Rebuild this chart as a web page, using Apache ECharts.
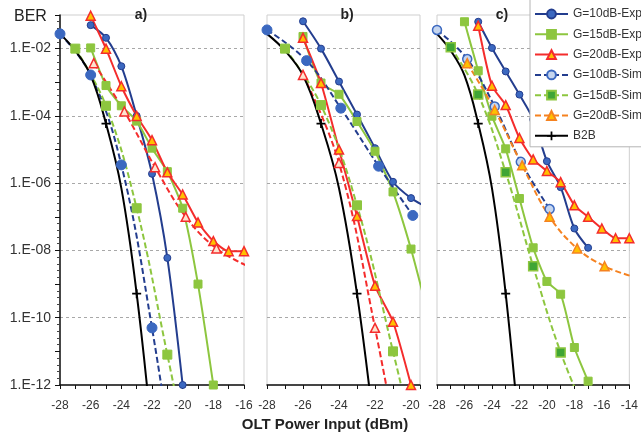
<!DOCTYPE html>
<html>
<head>
<meta charset="utf-8">
<title>BER</title>
<script src="https://cdn.jsdelivr.net/npm/echarts@6/dist/echarts.min.js"></script>
<style>
html,body{margin:0;padding:0;background:#fff;}
#main{width:641px;height:439px;}
</style>
</head>
<body>
<div id="main"></div>
<script>
// ---- data (x = OLT power in dBm, y = BER) ----
var names = ['G=10dB-Exp','G=15dB-Exp','G=20dB-Exp','G=10dB-Sim','G=15dB-Sim','G=20dB-Sim','B2B'];
var panelTitles = ['a)','b)','c)'];
var xMaxes = [-16, -19.5, -14];

// back to back, same in every panel
var b2bX = [-28, -27, -26, -25, -24, -23, -22];
var b2bBer = [2.75e-2, 8.7e-3, 1.6e-3, 5.9e-5, 7.1e-7, 5.2e-10, 3e-14];
var b2bMarked = [-25, -23];

// panel a)
var aG10ExpX = [-26, -25, -24, -23, -22, -21, -20];
var aG10ExpBer = [5e-2, 2.1e-2, 3e-3, 1e-4, 1.9e-6, 6e-9, 1e-12];
var aG15ExpX = [-26, -25, -24, -23, -22, -21, -20, -19, -18];
var aG15ExpBer = [1.05e-2, 8e-4, 2e-4, 7e-5, 1.1e-5, 2.2e-6, 1.8e-7, 1e-9, 1e-12];
var aG20ExpX = [-26, -25, -24, -23, -22, -21, -20, -19, -18, -17, -16];
var aG20ExpBer = [9.5e-2, 1e-2, 7.6e-4, 1e-4, 1.9e-5, 2.1e-6, 4.6e-7, 6.8e-8, 1.9e-8, 9.5e-9, 9.5e-9];
var aG10SimX = [-28, -26, -24, -22, -20];
var aG10SimBer = [2.75e-2, 1.65e-3, 3.5e-6, 5e-11, 5e-17];
var aG15SimX = [-27, -25, -23, -21, -19];
var aG15SimBer = [1e-2, 2e-4, 1.8e-7, 8e-12, 3e-16];
var aG20SimX = [-25.8, -23.8, -21.8, -19.8, -17.8, -15.8];
var aG20SimBer = [3.7e-3, 1.35e-4, 3e-6, 1e-7, 1.15e-8, 3.5e-9];

// panel b)
var bG10ExpX = [-26, -25, -24, -23, -22, -21, -20, -19];
var bG10ExpBer = [6.5e-2, 1e-2, 1.05e-3, 1.1e-4, 1.1e-5, 1.1e-6, 3.6e-7, 1.8e-7];
var bG15ExpX = [-26, -25, -24, -23, -22, -21, -20, -19];
var bG15ExpBer = [2.3e-2, 9.5e-4, 4.4e-4, 6.8e-5, 8.9e-6, 5.5e-7, 1.1e-8, 1e-10];
var bG20ExpX = [-26, -25, -24, -23, -22, -21, -20];
var bG20ExpBer = [2.1e-2, 9.5e-4, 1e-5, 1.05e-7, 9e-10, 7.6e-11, 1e-12];
var bG10SimX = [-28, -25.8, -23.9, -21.8, -19.9];
var bG10SimBer = [3.6e-2, 4.4e-3, 1.7e-4, 3.2e-6, 1.1e-7];
var bG15SimX = [-27, -25, -23, -21, -19];
var bG15SimBer = [1e-2, 2.1e-4, 2.2e-7, 1e-11, 3e-16];
var bG20SimX = [-26, -24, -22, -20];
var bG20SimBer = [1.65e-3, 4e-6, 5e-11, 1e-16];

// panel c)
var cG10ExpX = [-25, -24, -23, -22, -21, -20, -19, -18, -17];
var cG10ExpBer = [6.3e-2, 1.05e-2, 2.1e-3, 4.3e-4, 7.9e-5, 4.5e-6, 7.6e-7, 4.5e-8, 1.2e-8];
var cG15ExpX = [-26, -25, -24, -23, -22, -21, -20, -19, -18, -17];
var cG15ExpBer = [6.3e-2, 2.2e-3, 9.8e-5, 1.05e-5, 3.5e-7, 1.2e-8, 1.2e-9, 5e-10, 1.3e-11, 1.3e-12];
var cG20ExpX = [-25, -24, -23, -22, -21, -20, -19, -18, -17, -16, -15, -14];
var cG20ExpBer = [4.8e-2, 7.9e-4, 2.1e-4, 2.2e-5, 5.1e-6, 2.3e-6, 1.07e-6, 2.2e-7, 1e-7, 4.5e-8, 2.3e-8, 2.3e-8];
var cG10SimX = [-28, -25.8, -23.8, -21.9, -19.8];
var cG10SimBer = [3.6e-2, 4.9e-3, 1.9e-4, 4.3e-6, 1.7e-7];
var cG15SimX = [-27, -25, -23, -21, -19, -17];
var cG15SimBer = [1.1e-2, 4.3e-4, 2.1e-6, 3.4e-9, 9.3e-12, 1e-13];
var cG20SimX = [-25.8, -23.8, -21.8, -19.8, -17.8, -15.8, -13.8];
var cG20SimBer = [3.7e-3, 1.5e-4, 3.4e-6, 1e-7, 1.15e-8, 3.4e-9, 1.7e-9];

var panelData = [
    [[aG10ExpX, aG10ExpBer], [aG15ExpX, aG15ExpBer], [aG20ExpX, aG20ExpBer],
     [aG10SimX, aG10SimBer], [aG15SimX, aG15SimBer], [aG20SimX, aG20SimBer], [b2bX, b2bBer]],
    [[bG10ExpX, bG10ExpBer], [bG15ExpX, bG15ExpBer], [bG20ExpX, bG20ExpBer],
     [bG10SimX, bG10SimBer], [bG15SimX, bG15SimBer], [bG20SimX, bG20SimBer], [b2bX, b2bBer]],
    [[cG10ExpX, cG10ExpBer], [cG15ExpX, cG15ExpBer], [cG20ExpX, cG20ExpBer],
     [cG10SimX, cG10SimBer], [cG15SimX, cG15SimBer], [cG20SimX, cG20SimBer], [b2bX, b2bBer]]
];

// ---- layout / style ----
var FONT = 'Liberation Sans, Arial, sans-serif';
var gridLeft = [60, 267, 437];
var gridWidth = [184, 153, 194];
var PLUS = 'path://M0,4L10,4L10,6L0,6Z M4,0L6,0L6,10L4,10Z';

var NAVY = '#233d8e', BLUE = '#3b68c0', GREEN = '#8dc63f', DKGREEN = '#3fa535',
    RED = '#f42c2c', YEL = '#ffc000', ORANGE = '#f58220';

function styleFor(i, p){
    switch(i){
        case 0: return {symbol:'circle', size:7, line:NAVY, fill:BLUE, border:NAVY, bw:1, smooth:0.3};
        case 1: return {symbol:'rect', size:8, line:GREEN, fill:GREEN, border:GREEN, bw:1, smooth:0.2};
        case 2: return {symbol:'triangle', size:9, line:RED, fill:YEL, border:RED, bw:1.5, smooth:0.2};
        case 3:
            if(p == 2) return {symbol:'circle', size:9, line:NAVY, fill:'#c6d6ef', border:BLUE, bw:1.5, smooth:0.4, dash:true};
            return {symbol:'circle', size:10, line:NAVY, fill:BLUE, border:BLUE, bw:1, smooth:0.4, dash:true};
        case 4:
            if(p == 2) return {symbol:'rect', size:9, line:GREEN, fill:DKGREEN, border:GREEN, bw:1.5, smooth:0.4, dash:true};
            return {symbol:'rect', size:9, line:GREEN, fill:GREEN, border:GREEN, bw:1, smooth:0.4, dash:true};
        case 5:
            if(p == 2) return {symbol:'triangle', size:9, line:ORANGE, fill:YEL, border:ORANGE, bw:1.5, smooth:0.4, dash:true};
            return {symbol:'triangle', size:9, line:RED, fill:'#fde3cf', border:RED, bw:1.5, smooth:0.4, dash:true};
        default: return {symbol:PLUS, size:[9,9], line:'#000', fill:'#000', border:'#000', bw:0, smooth:0.4};
    }
}

var grids = [], xAxes = [], yAxes = [], series = [];

function expLabel(v){
    if(v % 2 === 0 && v < -1){
        var e = -v;
        return '1.E-' + (e < 10 ? '0' + e : e);
    }
    return '';
}

for(var p = 0; p < 3; p++){
    grids.push({left: gridLeft[p], width: gridWidth[p], top: 15, height: 370,
        show: true, borderColor: '#cfcfcf', borderWidth: 1, backgroundColor: 'transparent'});
    xAxes.push({
        gridIndex: p, type: 'value', min: -28, max: xMaxes[p], interval: 1,
        axisLine: {onZero: false, lineStyle: {color: '#111', width: 1.5}},
        axisTick: {length: 4, lineStyle: {color: '#111'}},
        axisLabel: {fontSize: 12, color: '#333', fontFamily: FONT, margin: 15,
            formatter: function(v){ return (v % 2 === 0) ? String(v) : ''; }},
        splitLine: {show: false}
    });
    // log axis that the series use
    yAxes.push({gridIndex: p, type: 'log', logBase: 10, min: 1e-12, max: 1e-1, position: 'left', show: false});
    // decade axis for labels and grid lines
    yAxes.push({
        gridIndex: p, type: 'value', min: -12, max: -1, interval: 2, position: 'left',
        axisLine: {show: false}, axisTick: {show: false},
        axisLabel: {show: p === 0, fontSize: 14, color: '#333', fontFamily: FONT, margin: 9, formatter: expLabel},
        splitLine: {show: true, showMinLine: false, showMaxLine: false,
            lineStyle: {color: '#a8a8a8', type: [3, 3], width: 1}}
    });
    // tick axis (only drawn on the first panel)
    yAxes.push({
        gridIndex: p, type: 'value', min: -12, max: -1, interval: 1, position: 'left', show: p === 0,
        axisLine: {show: true, lineStyle: {color: '#111', width: 1.5}},
        axisTick: {show: true, length: 5, lineStyle: {color: '#111'}},
        minorTick: {show: true, splitNumber: 5, length: 3, lineStyle: {color: '#444'}},
        axisLabel: {show: false}, splitLine: {show: false}
    });
}

// panel c first so the legend takes its styles
[2, 0, 1].forEach(function(p){
    for(var i = 0; i < names.length; i++){
        var st = styleFor(i, p);
        var xs = panelData[p][i][0], ys = panelData[p][i][1];
        var data = xs.map(function(x, k){
            if(i == 6){
                return {value: [x, ys[k]], symbol: b2bMarked.indexOf(x) >= 0 ? PLUS : 'none'};
            }
            return [x, ys[k]];
        });
        series.push({
            name: names[i], type: 'line', xAxisIndex: p, yAxisIndex: p * 3,
            data: data, smooth: st.smooth, clip: true,
            symbol: st.symbol, symbolSize: st.size, showAllSymbol: true,
            lineStyle: {color: st.line, width: 2, type: st.dash ? [6, 3] : 'solid'},
            itemStyle: {color: st.fill, borderColor: st.border, borderWidth: st.bw},
            emphasis: {disabled: true},
            animation: false
        });
    }
});

var texts = [
    {type: 'text', left: 14, top: 9, style: {text: 'BER', font: '16px ' + FONT, fill: '#222'}},
    {type: 'text', x: 325, y: 425, style: {text: 'OLT Power Input (dBm)', font: 'bold 15px ' + FONT, fill: '#222',
        align: 'center', verticalAlign: 'middle'}}
];
var titleX = [141, 347, 502];
for(var t = 0; t < 3; t++){
    texts.push({type: 'text', x: titleX[t], y: 15, style: {text: panelTitles[t], font: 'bold 14px ' + FONT,
        fill: '#222', align: 'center', verticalAlign: 'middle'}});
}

var myChart = echarts.init(document.getElementById('main'), null, {renderer: 'canvas'});
myChart.setOption({
    backgroundColor: '#fff',
    animation: false,
    grid: grids,
    xAxis: xAxes,
    yAxis: yAxes,
    legend: {
        orient: 'vertical', left: 530, top: -2, padding: [10, 14, 5, 4],
        itemWidth: 33, itemHeight: 11, itemGap: 8.3,
        backgroundColor: '#fff', borderColor: '#b4b4b4', borderWidth: 1,
        textStyle: {fontSize: 12, color: '#333', fontFamily: FONT},
        selectedMode: false, z: 10,
        data: names
    },
    graphic: texts,
    series: series
});
</script>
</body>
</html>
